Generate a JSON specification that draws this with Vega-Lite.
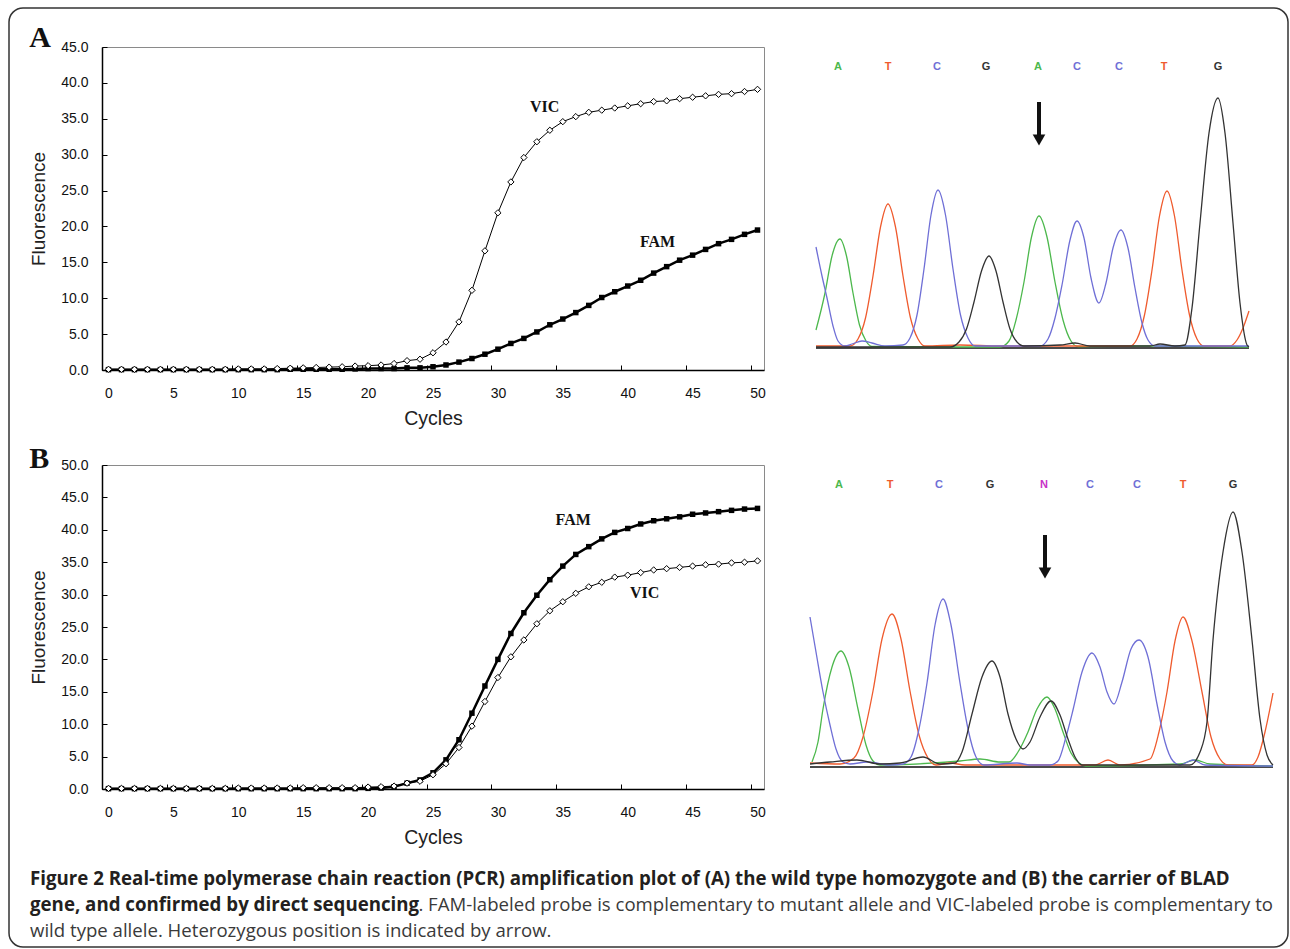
{
"$schema": "https://vega.github.io/schema/vega-lite/v6.json",
"padding": {"left": 8, "top": 7, "right": 0, "bottom": 0},
"autosize": {"type": "pad"},
"background": "white",
"config": {"view": {"stroke": null}, "font": "Liberation Sans"},
"columns": 2,
"bounds": "flush",
"align": "each",
"spacing": {"row": 95, "column": 36},
"datasets": {
"pcrA": [
{"c":0,"p":"VIC","f":0.1},{"c":1,"p":"VIC","f":0.1},{"c":2,"p":"VIC","f":0.1},{"c":3,"p":"VIC","f":0.1},{"c":4,"p":"VIC","f":0.1},{"c":5,"p":"VIC","f":0.1},{"c":6,"p":"VIC","f":0.1},{"c":7,"p":"VIC","f":0.1},{"c":8,"p":"VIC","f":0.1},{"c":9,"p":"VIC","f":0.1},
{"c":10,"p":"VIC","f":0.15},{"c":11,"p":"VIC","f":0.15},{"c":12,"p":"VIC","f":0.15},{"c":13,"p":"VIC","f":0.2},{"c":14,"p":"VIC","f":0.25},{"c":15,"p":"VIC","f":0.3},{"c":16,"p":"VIC","f":0.35},{"c":17,"p":"VIC","f":0.4},{"c":18,"p":"VIC","f":0.45},{"c":19,"p":"VIC","f":0.55},
{"c":20,"p":"VIC","f":0.6},{"c":21,"p":"VIC","f":0.7},{"c":22,"p":"VIC","f":0.9},{"c":23,"p":"VIC","f":1.3},{"c":24,"p":"VIC","f":1.5},{"c":25,"p":"VIC","f":2.4},{"c":26,"p":"VIC","f":3.9},{"c":27,"p":"VIC","f":6.7},{"c":28,"p":"VIC","f":11.1},{"c":29,"p":"VIC","f":16.6},
{"c":30,"p":"VIC","f":21.9},{"c":31,"p":"VIC","f":26.2},{"c":32,"p":"VIC","f":29.6},{"c":33,"p":"VIC","f":31.8},{"c":34,"p":"VIC","f":33.4},{"c":35,"p":"VIC","f":34.6},{"c":36,"p":"VIC","f":35.3},{"c":37,"p":"VIC","f":35.9},{"c":38,"p":"VIC","f":36.2},{"c":39,"p":"VIC","f":36.5},
{"c":40,"p":"VIC","f":36.8},{"c":41,"p":"VIC","f":37.1},{"c":42,"p":"VIC","f":37.4},{"c":43,"p":"VIC","f":37.5},{"c":44,"p":"VIC","f":37.8},{"c":45,"p":"VIC","f":38.0},{"c":46,"p":"VIC","f":38.2},{"c":47,"p":"VIC","f":38.4},{"c":48,"p":"VIC","f":38.5},{"c":49,"p":"VIC","f":38.8},{"c":50,"p":"VIC","f":39.1},
{"c":0,"p":"FAM","f":0.05},{"c":1,"p":"FAM","f":0.05},{"c":2,"p":"FAM","f":0.05},{"c":3,"p":"FAM","f":0.05},{"c":4,"p":"FAM","f":0.05},{"c":5,"p":"FAM","f":0.05},{"c":6,"p":"FAM","f":0.05},{"c":7,"p":"FAM","f":0.05},{"c":8,"p":"FAM","f":0.05},{"c":9,"p":"FAM","f":0.05},
{"c":10,"p":"FAM","f":0.05},{"c":11,"p":"FAM","f":0.05},{"c":12,"p":"FAM","f":0.05},{"c":13,"p":"FAM","f":0.05},{"c":14,"p":"FAM","f":0.1},{"c":15,"p":"FAM","f":0.1},{"c":16,"p":"FAM","f":0.1},{"c":17,"p":"FAM","f":0.1},{"c":18,"p":"FAM","f":0.1},{"c":19,"p":"FAM","f":0.15},
{"c":20,"p":"FAM","f":0.2},{"c":21,"p":"FAM","f":0.2},{"c":22,"p":"FAM","f":0.2},{"c":23,"p":"FAM","f":0.3},{"c":24,"p":"FAM","f":0.3},{"c":25,"p":"FAM","f":0.45},{"c":26,"p":"FAM","f":0.7},{"c":27,"p":"FAM","f":1.1},{"c":28,"p":"FAM","f":1.6},{"c":29,"p":"FAM","f":2.2},
{"c":30,"p":"FAM","f":2.9},{"c":31,"p":"FAM","f":3.7},{"c":32,"p":"FAM","f":4.4},{"c":33,"p":"FAM","f":5.3},{"c":34,"p":"FAM","f":6.3},{"c":35,"p":"FAM","f":7.1},{"c":36,"p":"FAM","f":8.0},{"c":37,"p":"FAM","f":9.0},{"c":38,"p":"FAM","f":10.1},{"c":39,"p":"FAM","f":10.9},
{"c":40,"p":"FAM","f":11.7},{"c":41,"p":"FAM","f":12.5},{"c":42,"p":"FAM","f":13.5},{"c":43,"p":"FAM","f":14.4},{"c":44,"p":"FAM","f":15.3},{"c":45,"p":"FAM","f":16.0},{"c":46,"p":"FAM","f":16.8},{"c":47,"p":"FAM","f":17.6},{"c":48,"p":"FAM","f":18.2},{"c":49,"p":"FAM","f":18.9},{"c":50,"p":"FAM","f":19.5}
],
"pcrB": [
{"c":0,"p":"VIC","f":0.1},{"c":1,"p":"VIC","f":0.1},{"c":2,"p":"VIC","f":0.1},{"c":3,"p":"VIC","f":0.1},{"c":4,"p":"VIC","f":0.1},{"c":5,"p":"VIC","f":0.1},{"c":6,"p":"VIC","f":0.1},{"c":7,"p":"VIC","f":0.1},{"c":8,"p":"VIC","f":0.1},{"c":9,"p":"VIC","f":0.1},
{"c":10,"p":"VIC","f":0.15},{"c":11,"p":"VIC","f":0.15},{"c":12,"p":"VIC","f":0.15},{"c":13,"p":"VIC","f":0.15},{"c":14,"p":"VIC","f":0.15},{"c":15,"p":"VIC","f":0.2},{"c":16,"p":"VIC","f":0.2},{"c":17,"p":"VIC","f":0.2},{"c":18,"p":"VIC","f":0.2},{"c":19,"p":"VIC","f":0.2},
{"c":20,"p":"VIC","f":0.3},{"c":21,"p":"VIC","f":0.35},{"c":22,"p":"VIC","f":0.45},{"c":23,"p":"VIC","f":0.9},{"c":24,"p":"VIC","f":1.2},{"c":25,"p":"VIC","f":2.2},{"c":26,"p":"VIC","f":3.9},{"c":27,"p":"VIC","f":6.4},{"c":28,"p":"VIC","f":9.7},{"c":29,"p":"VIC","f":13.5},
{"c":30,"p":"VIC","f":17.2},{"c":31,"p":"VIC","f":20.4},{"c":32,"p":"VIC","f":23.0},{"c":33,"p":"VIC","f":25.5},{"c":34,"p":"VIC","f":27.5},{"c":35,"p":"VIC","f":28.9},{"c":36,"p":"VIC","f":30.2},{"c":37,"p":"VIC","f":31.2},{"c":38,"p":"VIC","f":31.9},{"c":39,"p":"VIC","f":32.7},
{"c":40,"p":"VIC","f":33.0},{"c":41,"p":"VIC","f":33.4},{"c":42,"p":"VIC","f":33.8},{"c":43,"p":"VIC","f":34.0},{"c":44,"p":"VIC","f":34.2},{"c":45,"p":"VIC","f":34.4},{"c":46,"p":"VIC","f":34.6},{"c":47,"p":"VIC","f":34.7},{"c":48,"p":"VIC","f":34.9},{"c":49,"p":"VIC","f":35.0},{"c":50,"p":"VIC","f":35.2},
{"c":0,"p":"FAM","f":0.05},{"c":1,"p":"FAM","f":0.05},{"c":2,"p":"FAM","f":0.05},{"c":3,"p":"FAM","f":0.05},{"c":4,"p":"FAM","f":0.05},{"c":5,"p":"FAM","f":0.05},{"c":6,"p":"FAM","f":0.05},{"c":7,"p":"FAM","f":0.05},{"c":8,"p":"FAM","f":0.05},{"c":9,"p":"FAM","f":0.05},
{"c":10,"p":"FAM","f":0.05},{"c":11,"p":"FAM","f":0.05},{"c":12,"p":"FAM","f":0.05},{"c":13,"p":"FAM","f":0.05},{"c":14,"p":"FAM","f":0.05},{"c":15,"p":"FAM","f":0.05},{"c":16,"p":"FAM","f":0.05},{"c":17,"p":"FAM","f":0.05},{"c":18,"p":"FAM","f":0.05},{"c":19,"p":"FAM","f":0.05},
{"c":20,"p":"FAM","f":0.1},{"c":21,"p":"FAM","f":0.15},{"c":22,"p":"FAM","f":0.35},{"c":23,"p":"FAM","f":0.9},{"c":24,"p":"FAM","f":1.4},{"c":25,"p":"FAM","f":2.5},{"c":26,"p":"FAM","f":4.5},{"c":27,"p":"FAM","f":7.6},{"c":28,"p":"FAM","f":11.7},{"c":29,"p":"FAM","f":15.9},
{"c":30,"p":"FAM","f":20.0},{"c":31,"p":"FAM","f":24.0},{"c":32,"p":"FAM","f":27.2},{"c":33,"p":"FAM","f":29.9},{"c":34,"p":"FAM","f":32.3},{"c":35,"p":"FAM","f":34.4},{"c":36,"p":"FAM","f":36.2},{"c":37,"p":"FAM","f":37.4},{"c":38,"p":"FAM","f":38.6},{"c":39,"p":"FAM","f":39.6},
{"c":40,"p":"FAM","f":40.2},{"c":41,"p":"FAM","f":40.9},{"c":42,"p":"FAM","f":41.4},{"c":43,"p":"FAM","f":41.7},{"c":44,"p":"FAM","f":42.0},{"c":45,"p":"FAM","f":42.4},{"c":46,"p":"FAM","f":42.6},{"c":47,"p":"FAM","f":42.8},{"c":48,"p":"FAM","f":43.0},{"c":49,"p":"FAM","f":43.2},{"c":50,"p":"FAM","f":43.3}
],
"chromA": [
{"b":"A","x":16,"h":18},{"b":"A","x":25,"h":55},{"b":"A","x":32,"h":92},{"b":"A","x":40,"h":109},{"b":"A","x":46.5,"h":92},{"b":"A","x":53,"h":55},{"b":"A","x":59.5,"h":23},{"b":"A","x":66,"h":7},{"b":"A","x":72,"h":1.5},{"b":"A","x":150,"h":1},{"b":"A","x":200,"h":1},{"b":"A","x":209,"h":7},{"b":"A","x":216,"h":28},{"b":"A","x":224,"h":66},{"b":"A","x":231.5,"h":111},{"b":"A","x":239,"h":132},{"b":"A","x":247,"h":111},{"b":"A","x":255,"h":66},{"b":"A","x":263,"h":28},{"b":"A","x":271,"h":7},{"b":"A","x":278,"h":1.5},{"b":"A","x":350,"h":2},{"b":"A","x":449,"h":1},
{"b":"T","x":16,"h":2},{"b":"T","x":50,"h":2},{"b":"T","x":58,"h":9},{"b":"T","x":65.5,"h":30},{"b":"T","x":73,"h":72},{"b":"T","x":80.5,"h":121},{"b":"T","x":88,"h":144},{"b":"T","x":95.5,"h":121},{"b":"T","x":103,"h":72},{"b":"T","x":110.5,"h":30},{"b":"T","x":118,"h":9},{"b":"T","x":125,"h":2},{"b":"T","x":160,"h":3},{"b":"T","x":200,"h":2},{"b":"T","x":330,"h":2},{"b":"T","x":337,"h":9},{"b":"T","x":344.5,"h":33},{"b":"T","x":352,"h":78},{"b":"T","x":359.5,"h":132},{"b":"T","x":367,"h":157},{"b":"T","x":374.5,"h":132},{"b":"T","x":382,"h":78},{"b":"T","x":389.5,"h":33},{"b":"T","x":397,"h":9},{"b":"T","x":404,"h":2},{"b":"T","x":430,"h":2},{"b":"T","x":437,"h":8},{"b":"T","x":443,"h":20},{"b":"T","x":449,"h":37},
{"b":"C","x":16,"h":101},{"b":"C","x":22,"h":72},{"b":"C","x":27,"h":50},{"b":"C","x":33,"h":22},{"b":"C","x":38,"h":7},{"b":"C","x":45,"h":2},{"b":"C","x":52,"h":4},{"b":"C","x":62,"h":7},{"b":"C","x":72,"h":5},{"b":"C","x":85,"h":2},{"b":"C","x":103,"h":3},{"b":"C","x":110,"h":10},{"b":"C","x":117,"h":33},{"b":"C","x":124,"h":79},{"b":"C","x":131,"h":133},{"b":"C","x":138,"h":158},{"b":"C","x":145.5,"h":133},{"b":"C","x":153,"h":79},{"b":"C","x":160.5,"h":33},{"b":"C","x":168,"h":10},{"b":"C","x":175,"h":2},{"b":"C","x":240,"h":2},{"b":"C","x":248,"h":9},{"b":"C","x":255,"h":30},{"b":"C","x":262,"h":63},{"b":"C","x":270,"h":108},{"b":"C","x":277,"h":127},{"b":"C","x":284,"h":110},{"b":"C","x":291,"h":70},{"b":"C","x":299,"h":45},{"b":"C","x":306,"h":65},{"b":"C","x":313,"h":100},{"b":"C","x":321,"h":118},{"b":"C","x":328,"h":100},{"b":"C","x":335,"h":60},{"b":"C","x":342,"h":25},{"b":"C","x":348,"h":8},{"b":"C","x":355,"h":2},{"b":"C","x":449,"h":2},
{"b":"G","x":16,"h":1},{"b":"G","x":150,"h":1},{"b":"G","x":159,"h":6},{"b":"G","x":166.5,"h":19},{"b":"G","x":174,"h":46},{"b":"G","x":181.5,"h":77},{"b":"G","x":189,"h":92},{"b":"G","x":196,"h":77},{"b":"G","x":203,"h":46},{"b":"G","x":210,"h":19},{"b":"G","x":217,"h":6},{"b":"G","x":224,"h":2},{"b":"G","x":260,"h":3},{"b":"G","x":275,"h":5},{"b":"G","x":290,"h":2},{"b":"G","x":350,"h":2},{"b":"G","x":360,"h":4},{"b":"G","x":375,"h":2},{"b":"G","x":385,"h":3},{"b":"G","x":392,"h":40},{"b":"G","x":400,"h":125},{"b":"G","x":409,"h":215},{"b":"G","x":418,"h":250},{"b":"G","x":425,"h":215},{"b":"G","x":433,"h":125},{"b":"G","x":440,"h":45},{"b":"G","x":447,"h":3},{"b":"G","x":449,"h":1}
],
"chromB": [
{"b":"A","x":12,"h":5},{"b":"A","x":18,"h":25},{"b":"A","x":23,"h":58},{"b":"A","x":32,"h":100},{"b":"A","x":41,"h":116},{"b":"A","x":49,"h":100},{"b":"A","x":58,"h":58},{"b":"A","x":66,"h":22},{"b":"A","x":73,"h":6},{"b":"A","x":80,"h":2},{"b":"A","x":160,"h":6},{"b":"A","x":180,"h":8},{"b":"A","x":200,"h":5},{"b":"A","x":209,"h":5},{"b":"A","x":218,"h":15},{"b":"A","x":228,"h":35},{"b":"A","x":237,"h":58},{"b":"A","x":247,"h":70},{"b":"A","x":255,"h":58},{"b":"A","x":263,"h":35},{"b":"A","x":271,"h":14},{"b":"A","x":279,"h":4},{"b":"A","x":286,"h":1},{"b":"A","x":380,"h":3},{"b":"A","x":395,"h":7},{"b":"A","x":410,"h":3},{"b":"A","x":473,"h":1},
{"b":"T","x":10,"h":4},{"b":"T","x":40,"h":3},{"b":"T","x":54,"h":9},{"b":"T","x":63,"h":30},{"b":"T","x":73,"h":76},{"b":"T","x":82,"h":128},{"b":"T","x":92,"h":153},{"b":"T","x":101,"h":128},{"b":"T","x":110,"h":76},{"b":"T","x":119,"h":32},{"b":"T","x":128,"h":9},{"b":"T","x":136,"h":2},{"b":"T","x":150,"h":4},{"b":"T","x":165,"h":2},{"b":"T","x":295,"h":2},{"b":"T","x":308,"h":7},{"b":"T","x":320,"h":2},{"b":"T","x":350,"h":8},{"b":"T","x":359,"h":35},{"b":"T","x":367,"h":75},{"b":"T","x":375,"h":126},{"b":"T","x":383,"h":150},{"b":"T","x":392,"h":126},{"b":"T","x":402,"h":75},{"b":"T","x":411,"h":30},{"b":"T","x":420,"h":8},{"b":"T","x":428,"h":2},{"b":"T","x":452,"h":2},{"b":"T","x":458,"h":10},{"b":"T","x":465,"h":35},{"b":"T","x":473,"h":74},
{"b":"C","x":10,"h":150},{"b":"C","x":16,"h":115},{"b":"C","x":23,"h":75},{"b":"C","x":30,"h":42},{"b":"C","x":36,"h":18},{"b":"C","x":43,"h":5},{"b":"C","x":50,"h":3},{"b":"C","x":67,"h":5},{"b":"C","x":90,"h":2},{"b":"C","x":103,"h":3},{"b":"C","x":111,"h":10},{"b":"C","x":119,"h":38},{"b":"C","x":127,"h":84},{"b":"C","x":135,"h":142},{"b":"C","x":143,"h":168},{"b":"C","x":151,"h":142},{"b":"C","x":160,"h":84},{"b":"C","x":168,"h":38},{"b":"C","x":176,"h":10},{"b":"C","x":184,"h":2},{"b":"C","x":217,"h":4},{"b":"C","x":230,"h":2},{"b":"C","x":250,"h":2},{"b":"C","x":258,"h":6},{"b":"C","x":266,"h":30},{"b":"C","x":273,"h":57},{"b":"C","x":282,"h":95},{"b":"C","x":292,"h":114},{"b":"C","x":300,"h":100},{"b":"C","x":307,"h":75},{"b":"C","x":314,"h":63},{"b":"C","x":322,"h":85},{"b":"C","x":331,"h":118},{"b":"C","x":339,"h":127},{"b":"C","x":348,"h":110},{"b":"C","x":357,"h":63},{"b":"C","x":365,"h":25},{"b":"C","x":373,"h":6},{"b":"C","x":380,"h":2},{"b":"C","x":393,"h":7},{"b":"C","x":405,"h":2},{"b":"C","x":473,"h":1},
{"b":"G","x":10,"h":3},{"b":"G","x":30,"h":5},{"b":"G","x":57,"h":7},{"b":"G","x":80,"h":3},{"b":"G","x":100,"h":4},{"b":"G","x":123,"h":10},{"b":"G","x":140,"h":3},{"b":"G","x":155,"h":4},{"b":"G","x":162,"h":15},{"b":"G","x":172,"h":53},{"b":"G","x":182,"h":90},{"b":"G","x":192,"h":106},{"b":"G","x":200,"h":90},{"b":"G","x":208,"h":53},{"b":"G","x":216,"h":28},{"b":"G","x":223,"h":18},{"b":"G","x":230,"h":25},{"b":"G","x":240,"h":50},{"b":"G","x":251,"h":66},{"b":"G","x":260,"h":52},{"b":"G","x":268,"h":28},{"b":"G","x":275,"h":10},{"b":"G","x":282,"h":2},{"b":"G","x":390,"h":2},{"b":"G","x":400,"h":15},{"b":"G","x":407,"h":45},{"b":"G","x":413,"h":127},{"b":"G","x":423,"h":215},{"b":"G","x":433,"h":255},{"b":"G","x":442,"h":215},{"b":"G","x":452,"h":127},{"b":"G","x":460,"h":48},{"b":"G","x":467,"h":12},{"b":"G","x":473,"h":2}
],
"seqA": [
{"b":"A","x":38,"h":281},{"b":"T","x":88,"h":281},{"b":"C","x":137,"h":281},{"b":"G","x":186,"h":281},{"b":"A","x":238,"h":281},{"b":"C","x":277,"h":281},{"b":"C","x":319,"h":281},{"b":"T","x":364,"h":281},{"b":"G","x":418,"h":281}
],
"seqB": [
{"b":"A","x":39,"h":282},{"b":"T","x":90,"h":282},{"b":"C","x":139,"h":282},{"b":"G","x":190,"h":282},{"b":"N","x":244,"h":282},{"b":"C","x":290,"h":282},{"b":"C","x":337,"h":282},{"b":"T","x":383,"h":282},{"b":"G","x":433,"h":282}
]
},
"concat": [
{
"width": 662, "height": 323,
"view": {"stroke": "#8a8a8a", "strokeWidth": 1},
"data": {"name": "pcrA"},
"encoding": {
"x": {"field": "c", "type": "quantitative", "scale": {"domain": [-0.5, 50.5], "nice": false, "zero": false},
"axis": {"values": [-0.5,4.5,9.5,14.5,19.5,24.5,29.5,34.5,39.5,44.5,49.5], "labelExpr": "format(datum.value + 0.5, 'd')", "labelOffset": 6.5, "labelFlush": false, "title": "Cycles", "tickSize": -5, "labelPadding": 21, "titlePadding": 9, "grid": false, "domainColor": "#000", "domainWidth": 1.5, "tickColor": "#000", "labelFontSize": 14, "labelColor": "#111", "titleFontSize": 19.5, "titleFontWeight": "normal", "titleColor": "#222"}},
"y": {"field": "f", "type": "quantitative", "scale": {"domain": [0, 45], "nice": false},
"axis": {"values": [0,5,10,15,20,25,30,35,40,45], "format": ".1f", "labelFlush": false, "title": "Fluorescence", "tickSize": -5, "labelPadding": 19, "titlePadding": 12, "grid": false, "domainColor": "#000", "domainWidth": 1.5, "tickColor": "#000", "labelFontSize": 14, "labelColor": "#111", "titleFontSize": 19, "titleFontWeight": "normal", "titleColor": "#222"}}
},
"layer": [
{"transform": [{"filter": "datum.p == 'FAM'"}], "mark": {"type": "line", "color": "#000", "strokeWidth": 2.5}},
{"transform": [{"filter": "datum.p == 'FAM'"}], "mark": {"type": "point", "shape": "square", "filled": true, "color": "#000", "size": 30, "opacity": 1}},
{"transform": [{"filter": "datum.p == 'VIC'"}], "mark": {"type": "line", "color": "#000", "strokeWidth": 1}},
{"transform": [{"filter": "datum.p == 'VIC'"}], "mark": {"type": "point", "shape": "diamond", "filled": true, "fill": "#fff", "stroke": "#000", "strokeWidth": 1, "size": 40, "opacity": 1}},
{"data": {"values": [{"c": 33.6, "f": 36.6, "label": "VIC"}, {"c": 42.3, "f": 17.8, "label": "FAM"}]}, "mark": {"type": "text", "font": "Liberation Serif", "fontSize": 16, "fontWeight": "bold", "color": "#111"}, "encoding": {"text": {"field": "label"}}},
{"data": {"values": [{"c": -6.1, "f": 45, "label": "A"}]}, "mark": {"type": "text", "align": "left", "baseline": "alphabetic", "font": "Liberation Serif", "fontSize": 30, "fontWeight": "bold", "color": "#111"}, "encoding": {"text": {"field": "label"}}}
]
},
{
"width": 480, "height": 323,
"layer": [
{"data": {"values": [{"x1": 16, "x2": 449, "h": 0}]}, "mark": {"type": "rule", "color": "#4a4a4a", "strokeWidth": 2}, "encoding": {"x": {"field": "x1", "type": "quantitative", "scale": {"domain": [0, 480], "nice": false, "zero": false}, "axis": null}, "x2": {"field": "x2"}, "y": {"field": "h", "type": "quantitative", "scale": {"domain": [-22, 301], "nice": false, "zero": false}, "axis": null}}},
{"data": {"name": "chromA"}, "mark": {"type": "line", "interpolate": "monotone", "strokeWidth": 1.3}, "encoding": {"x": {"field": "x", "type": "quantitative", "scale": {"domain": [0, 480], "nice": false, "zero": false}, "axis": null}, "y": {"field": "h", "type": "quantitative", "scale": {"domain": [-22, 301], "nice": false, "zero": false}, "axis": null}, "color": {"field": "b", "type": "nominal", "scale": {"domain": ["A", "T", "C", "G", "N"], "range": ["#4cb84c", "#ef5b2e", "#6f6fd6", "#333333", "#c832c8"]}, "legend": null}}},
{"data": {"name": "seqA"}, "mark": {"type": "text", "fontSize": 11, "fontWeight": "bold", "font": "Liberation Sans"}, "encoding": {"x": {"field": "x", "type": "quantitative"}, "y": {"field": "h", "type": "quantitative"}, "text": {"field": "b"}, "color": {"field": "b", "type": "nominal", "scale": {"domain": ["A", "T", "C", "G", "N"], "range": ["#4cb84c", "#ef5b2e", "#6f6fd6", "#333333", "#c832c8"]}, "legend": null}}},
{"data": {"values": [{"x": 239, "top": 246, "bot": 213, "head": 208}]}, "layer": [
{"mark": {"type": "rule", "color": "#111", "strokeWidth": 4}, "encoding": {"x": {"field": "x", "type": "quantitative"}, "y": {"field": "top", "type": "quantitative"}, "y2": {"field": "bot"}}},
{"mark": {"type": "point", "shape": "triangle-down", "filled": true, "color": "#111", "size": 160, "opacity": 1}, "encoding": {"x": {"field": "x", "type": "quantitative"}, "y": {"field": "head", "type": "quantitative"}}}
]}
]
},
{
"width": 662, "height": 324,
"view": {"stroke": "#8a8a8a", "strokeWidth": 1},
"data": {"name": "pcrB"},
"encoding": {
"x": {"field": "c", "type": "quantitative", "scale": {"domain": [-0.5, 50.5], "nice": false, "zero": false},
"axis": {"values": [-0.5,4.5,9.5,14.5,19.5,24.5,29.5,34.5,39.5,44.5,49.5], "labelExpr": "format(datum.value + 0.5, 'd')", "labelOffset": 6.5, "labelFlush": false, "title": "Cycles", "tickSize": -5, "labelPadding": 21, "titlePadding": 9, "grid": false, "domainColor": "#000", "domainWidth": 1.5, "tickColor": "#000", "labelFontSize": 14, "labelColor": "#111", "titleFontSize": 19.5, "titleFontWeight": "normal", "titleColor": "#222"}},
"y": {"field": "f", "type": "quantitative", "scale": {"domain": [0, 50], "nice": false},
"axis": {"values": [0,5,10,15,20,25,30,35,40,45,50], "format": ".1f", "labelFlush": false, "title": "Fluorescence", "tickSize": -5, "labelPadding": 19, "titlePadding": 12, "grid": false, "domainColor": "#000", "domainWidth": 1.5, "tickColor": "#000", "labelFontSize": 14, "labelColor": "#111", "titleFontSize": 19, "titleFontWeight": "normal", "titleColor": "#222"}}
},
"layer": [
{"transform": [{"filter": "datum.p == 'FAM'"}], "mark": {"type": "line", "color": "#000", "strokeWidth": 2.5}},
{"transform": [{"filter": "datum.p == 'FAM'"}], "mark": {"type": "point", "shape": "square", "filled": true, "color": "#000", "size": 30, "opacity": 1}},
{"transform": [{"filter": "datum.p == 'VIC'"}], "mark": {"type": "line", "color": "#000", "strokeWidth": 1}},
{"transform": [{"filter": "datum.p == 'VIC'"}], "mark": {"type": "point", "shape": "diamond", "filled": true, "fill": "#fff", "stroke": "#000", "strokeWidth": 1, "size": 40, "opacity": 1}},
{"data": {"values": [{"c": 35.8, "f": 41.5, "label": "FAM"}, {"c": 41.3, "f": 30.2, "label": "VIC"}]}, "mark": {"type": "text", "font": "Liberation Serif", "fontSize": 16, "fontWeight": "bold", "color": "#111"}, "encoding": {"text": {"field": "label"}}},
{"data": {"values": [{"c": -6.1, "f": 49.5, "label": "B"}]}, "mark": {"type": "text", "align": "left", "baseline": "alphabetic", "font": "Liberation Serif", "fontSize": 30, "fontWeight": "bold", "color": "#111"}, "encoding": {"text": {"field": "label"}}}
]
},
{
"width": 480, "height": 324,
"layer": [
{"data": {"values": [{"x1": 10, "x2": 473, "h": 0}]}, "mark": {"type": "rule", "color": "#4a4a4a", "strokeWidth": 2}, "encoding": {"x": {"field": "x1", "type": "quantitative", "scale": {"domain": [0, 480], "nice": false, "zero": false}, "axis": null}, "x2": {"field": "x2"}, "y": {"field": "h", "type": "quantitative", "scale": {"domain": [-22, 302], "nice": false, "zero": false}, "axis": null}}},
{"data": {"name": "chromB"}, "mark": {"type": "line", "interpolate": "monotone", "strokeWidth": 1.3}, "encoding": {"x": {"field": "x", "type": "quantitative", "scale": {"domain": [0, 480], "nice": false, "zero": false}, "axis": null}, "y": {"field": "h", "type": "quantitative", "scale": {"domain": [-22, 302], "nice": false, "zero": false}, "axis": null}, "color": {"field": "b", "type": "nominal", "scale": {"domain": ["A", "T", "C", "G", "N"], "range": ["#4cb84c", "#ef5b2e", "#6f6fd6", "#333333", "#c832c8"]}, "legend": null}}},
{"data": {"name": "seqB"}, "mark": {"type": "text", "fontSize": 11, "fontWeight": "bold", "font": "Liberation Sans"}, "encoding": {"x": {"field": "x", "type": "quantitative"}, "y": {"field": "h", "type": "quantitative"}, "text": {"field": "b"}, "color": {"field": "b", "type": "nominal", "scale": {"domain": ["A", "T", "C", "G", "N"], "range": ["#4cb84c", "#ef5b2e", "#6f6fd6", "#333333", "#c832c8"]}, "legend": null}}},
{"data": {"values": [{"x": 245, "top": 232, "bot": 199, "head": 194}]}, "layer": [
{"mark": {"type": "rule", "color": "#111", "strokeWidth": 4}, "encoding": {"x": {"field": "x", "type": "quantitative"}, "y": {"field": "top", "type": "quantitative"}, "y2": {"field": "bot"}}},
{"mark": {"type": "point", "shape": "triangle-down", "filled": true, "color": "#111", "size": 160, "opacity": 1}, "encoding": {"x": {"field": "x", "type": "quantitative"}, "y": {"field": "head", "type": "quantitative"}}}
]}
]
},
{
"width": 662, "height": 52,
"layer": [
{"data": {"values": [{"x1": 9, "x2": 1288, "y1": 8, "y2": 947}]}, "mark": {"type": "rect", "filled": false, "fill": "transparent", "stroke": "#333", "strokeWidth": 1.5, "cornerRadius": 14}, "encoding": {"x": {"field": "x1", "type": "quantitative", "scale": {"domain": [102, 764], "nice": false, "zero": false}, "axis": null}, "x2": {"field": "x2"}, "y": {"field": "y1", "type": "quantitative", "scale": {"domain": [884, 936], "nice": false, "zero": false, "reverse": true}, "axis": null}, "y2": {"field": "y2"}}},
{"data": {"values": [{"px": 30, "py": 885, "t": "Figure 2 Real-time polymerase chain reaction (PCR) amplification plot of (A) the wild type homozygote and (B) the carrier of BLAD"}, {"px": 30, "py": 911, "t": "gene, and confirmed by direct sequencing"}]}, "mark": {"type": "text", "align": "left", "baseline": "alphabetic", "font": "Open Sans", "fontSize": 18.7, "fontWeight": "bold", "color": "#231f20"}, "encoding": {"x": {"field": "px", "type": "quantitative"}, "y": {"field": "py", "type": "quantitative"}, "text": {"field": "t"}}},
{"data": {"values": [{"px": 1273, "py": 911, "t": ". FAM-labeled probe is complementary to mutant allele and VIC-labeled probe is complementary to"}]}, "mark": {"type": "text", "align": "right", "baseline": "alphabetic", "font": "Open Sans", "fontSize": 18.6, "fontWeight": "normal", "color": "#3a3a3a"}, "encoding": {"x": {"field": "px", "type": "quantitative"}, "y": {"field": "py", "type": "quantitative"}, "text": {"field": "t"}}},
{"data": {"values": [{"px": 30, "py": 937, "t": "wild type allele. Heterozygous position is indicated by arrow."}]}, "mark": {"type": "text", "align": "left", "baseline": "alphabetic", "font": "Open Sans", "fontSize": 18.6, "fontWeight": "normal", "color": "#3a3a3a"}, "encoding": {"x": {"field": "px", "type": "quantitative"}, "y": {"field": "py", "type": "quantitative"}, "text": {"field": "t"}}}
]
}
]
}
